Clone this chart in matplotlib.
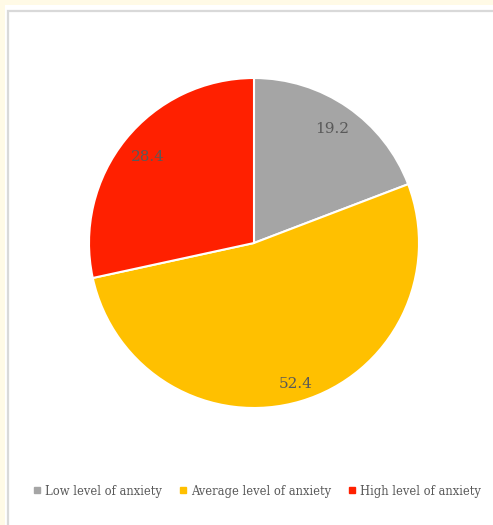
import matplotlib
matplotlib.use("Agg")
import matplotlib.pyplot as plt
from matplotlib.patches import Rectangle
from matplotlib.lines import Line2D
import numpy as np

categories = ["Low level of anxiety", "Average level of anxiety", "High level of anxiety"]
values = [19.2, 52.4, 28.4]
colors = ["#A5A5A5", "#FFC000", "#FF2000"]
label_radius = [0.84, 0.89, 0.83]

W, H = 493, 525
fig = plt.figure(figsize=(W / 100, H / 100), dpi=100)
fig.patch.set_facecolor("#FFFAE6")

# white panel with a light grey frame (right and bottom edges run off the canvas)
fig.add_artist(Rectangle((5 / W, -0.5), 2, 1.5 - 5 / H, transform=fig.transFigure,
                         facecolor="white", edgecolor="none", zorder=0))
fig.add_artist(Rectangle((7.5 / W, -0.5), 2, 1.5 - 10.5 / H, transform=fig.transFigure,
                         facecolor="white", edgecolor="#D9D9D9", linewidth=1.6, zorder=0))

cx, cy, r = 254, 243, 165
ax = fig.add_axes([(cx - r) / W, (H - cy - r) / H, 2 * r / W, 2 * r / H])
wedges, _ = ax.pie(values, colors=colors, startangle=90, counterclock=False,
                   wedgeprops=dict(edgecolor="white", linewidth=1.5))
ax.set_xlim(-1, 1)
ax.set_ylim(-1, 1)
ax.axis("off")

for w, v, d in zip(wedges, values, label_radius):
    ang = np.deg2rad((w.theta1 + w.theta2) / 2)
    ax.text(d * np.cos(ang), d * np.sin(ang), f"{v:.1f}", ha="center", va="center",
            fontsize=11, color="#595959", family="DejaVu Serif")

handles = [Line2D([], [], marker="s", linestyle="none", markersize=4.5,
                  markerfacecolor=c, markeredgecolor=c) for c in colors]
fig.legend(handles, categories, loc="center", bbox_to_anchor=(0.522, 1 - 491 / H),
           ncol=3, frameon=False, handlelength=0.6, handletextpad=0.4,
           columnspacing=1.5, prop={"family": "DejaVu Serif", "size": 8.3},
           labelcolor="#595959")

fig.savefig("out.png", dpi=100, facecolor=fig.get_facecolor())
